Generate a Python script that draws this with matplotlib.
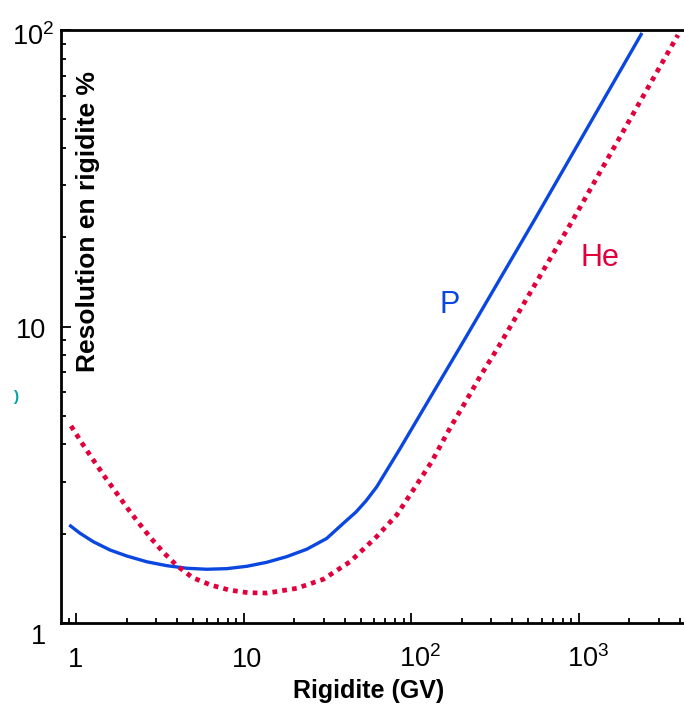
import matplotlib
matplotlib.use("Agg")
import matplotlib.pyplot as plt
import matplotlib.transforms as mtransforms
from matplotlib.ticker import FixedLocator, LogLocator, NullFormatter

plt.rcParams['font.family'] = ['Liberation Sans', 'DejaVu Sans']
plt.rcParams['mathtext.fontset'] = 'custom'
plt.rcParams['mathtext.rm'] = 'Liberation Sans'
plt.rcParams['mathtext.it'] = 'Liberation Sans:italic'
plt.rcParams['mathtext.bf'] = 'Liberation Sans:bold'

# Proton curve (rigidity GV, resolution %)
p_rig = [0.908, 1.052, 1.263, 1.589, 2.000, 2.633, 3.465, 4.561, 6.003, 7.90,
         10.40, 13.70, 18.04, 23.74, 31.25, 39.3, 46.8, 53.6, 62.1, 85.6,
         129.3, 214, 548, 2384]
p_res = [2.141, 2.008, 1.880, 1.763, 1.683, 1.609, 1.561, 1.530, 1.518, 1.525,
         1.553, 1.602, 1.674, 1.773, 1.928, 2.169, 2.368, 2.579, 2.875, 3.87,
         5.74, 9.29, 23.05, 97.7]

# Helium curve
he_rig = [0.93, 1.101, 1.270, 1.478, 1.726, 2.016, 2.368, 2.793, 3.325, 4.01,
          4.95, 6.35, 8.19, 10.6, 13.8, 20.7, 29.8, 43.1, 62.1, 81.8, 102.8,
          132.4, 170.2, 214, 257, 334, 923, 3910]
he_res = [4.62, 3.98, 3.53, 3.115, 2.760, 2.443, 2.169, 1.931, 1.726, 1.557,
          1.422, 1.343, 1.292, 1.265, 1.262, 1.309, 1.404, 1.609, 1.955, 2.313,
          2.81, 3.50, 4.54, 5.65, 6.77, 8.60, 22.9, 96.2]

x_ticks = [1, 10, 100, 1000]
x_ticklabels = ['1', '10', '$10^2$', '$10^3$']
y_ticks = [1, 10, 100]
y_ticklabels = ['1', '10', '$10^2$']

blue = '#0A46E0'
red = '#E2003C'
DPI = 100

fig = plt.figure(figsize=(6.84, 7.07), dpi=DPI)
ax = fig.add_axes([60.7/684, 1-623/707, 1-60.7/684, (623-30)/707])

ax.plot(p_rig, p_res, color=blue, lw=2.4, solid_capstyle='butt')
ax.plot(he_rig, he_res, color=red, lw=3.4, linestyle=(0, (1, 1.1)),
        dash_capstyle='butt')

ax.set_xscale('log')
ax.set_yscale('log')
ax.set_xlim(0.807, 4250)
ax.set_ylim(1, 100)

ax.xaxis.set_major_locator(FixedLocator(x_ticks))
ax.yaxis.set_major_locator(FixedLocator(y_ticks))
ax.xaxis.set_major_formatter(NullFormatter())
ax.yaxis.set_major_formatter(NullFormatter())
ax.xaxis.set_minor_locator(LogLocator(base=10, subs=range(2, 10), numticks=20))
ax.yaxis.set_minor_locator(LogLocator(base=10, subs=range(2, 10), numticks=20))
ax.xaxis.set_minor_formatter(NullFormatter())
ax.yaxis.set_minor_formatter(NullFormatter())

ax.tick_params(which='both', direction='in', top=False, right=False, width=1.3, color='black')
ax.tick_params(which='major', length=7.5)
ax.tick_params(which='minor', length=3.8)

for s in ['left', 'bottom', 'top']:
    ax.spines[s].set_linewidth(2.0)
ax.spines['right'].set_visible(False)


def px_offset(dx_px, dy_px):
    return mtransforms.ScaledTranslation(dx_px / DPI, -dy_px / DPI, fig.dpi_scale_trans)


TICK_FS = 19.5
# x tick labels (baseline aligned)
xbase = (623 - 667) / 593
for val, lab in zip(x_ticks, x_ticklabels):
    if lab == '1':
        tr = ax.get_xaxis_transform() + px_offset(-1, 0)
        ax.text(val, xbase, lab, transform=tr, ha='center', va='baseline',
                fontsize=TICK_FS, clip_on=False)
    else:
        tr = ax.get_xaxis_transform() + px_offset(-12, 0)
        ax.text(val, xbase, lab, transform=tr, ha='left', va='baseline',
                fontsize=TICK_FS, clip_on=False)

# y tick labels
y_dy = {'1': 21, '10': 11, '$10^2$': 15}
for val, lab in zip(y_ticks, y_ticklabels):
    if lab == '$10^2$':
        tr = ax.get_yaxis_transform() + px_offset(0, y_dy[lab])
        ax.text((12 - 60.7) / 623.3, val, lab, transform=tr, ha='left',
                va='baseline', fontsize=TICK_FS, clip_on=False)
    else:
        tr = ax.get_yaxis_transform() + px_offset(0, y_dy[lab])
        ax.text((46.5 - 60.7) / 623.3, val, lab, transform=tr, ha='right',
                va='baseline', fontsize=TICK_FS, clip_on=False)

fig.text(369/684, 1-691/707, 'Rigidite (GV)', fontsize=18, fontweight='bold',
         ha='center', va='center')
fig.text(88/684, 1-221/707, 'Resolution en rigidite %', rotation=90,
         fontsize=19, fontweight='bold', ha='center', va='center')

ax.text(170, 11.8, 'P', color=blue, fontsize=22, ha='center', va='center')
ax.text(1336, 17.0, 'He', color=red, fontsize=22, ha='center', va='center')

fig.text(17/684, 1-397/707, ')', color='#00A3AA', fontsize=11, fontweight='bold',
         ha='center', va='center')

fig.savefig('out.png', dpi=DPI)
